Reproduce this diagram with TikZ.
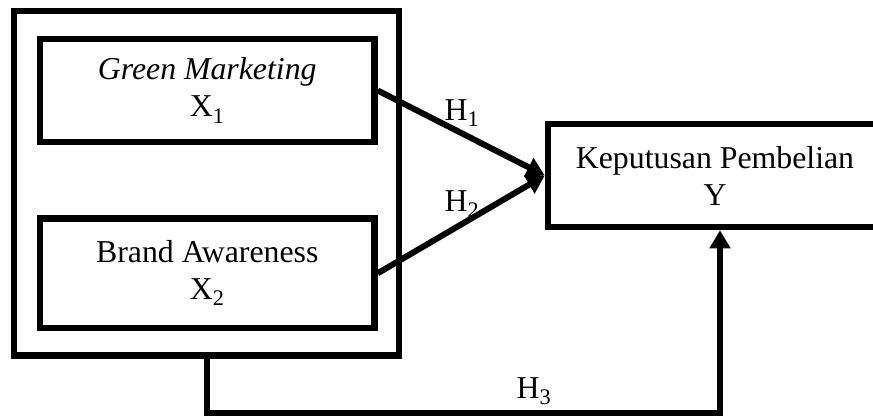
\documentclass[tikz,border=0pt]{standalone}
\usepackage{fontspec}
\setmainfont{Liberation Serif}
\usetikzlibrary{arrows.meta}
\tikzset{
  box/.style={draw=black, line width=6.5pt, inner sep=0pt, align=center,
    font=\fontsize{31.8}{37}\selectfont},
  arr/.style={line width=6pt, -{Triangle[length=18pt,width=20pt]}},
  hlabel/.style={inner sep=0pt, font=\fontsize{31.8}{37}\selectfont},
}
\begin{document}
\begin{tikzpicture}[x=1pt,y=-1pt]
\useasboundingbox (0,0) rectangle (873,416);
\node[box, minimum width=385pt, minimum height=344.5pt] (outer) at (206.5,183.25) {};
\node[box, minimum width=334.5pt, minimum height=103pt] (gm) at (207.25,90.5)
  {\textit{Green Marketing}\\X\textsubscript{1}};
\node[box, minimum width=334.5pt, minimum height=109.5pt] (ba) at (207.25,273.25)
  {Brand Awareness\\X\textsubscript{2}};
\node[box, minimum width=334pt, minimum height=103pt] (kp) at (715,175.5)
  {Keputusan Pembelian\\Y};
\draw[arr] (gm.east) -- (kp.west);
\draw[arr] (ba.east) -- (kp.west);
\coordinate (c1) at (206.5,413);
\coordinate (c2) at (720,413);
\draw[arr] (outer.south) -- (c1) -- (c2) -- (kp.south -| c2);
\node[hlabel] (h1) at (462,113) {H\textsubscript{1}};
\node[hlabel] (h2) at (462,204) {H\textsubscript{2}};
\node[hlabel] (h3) at (534,391) {H\textsubscript{3}};
\end{tikzpicture}
\end{document}
